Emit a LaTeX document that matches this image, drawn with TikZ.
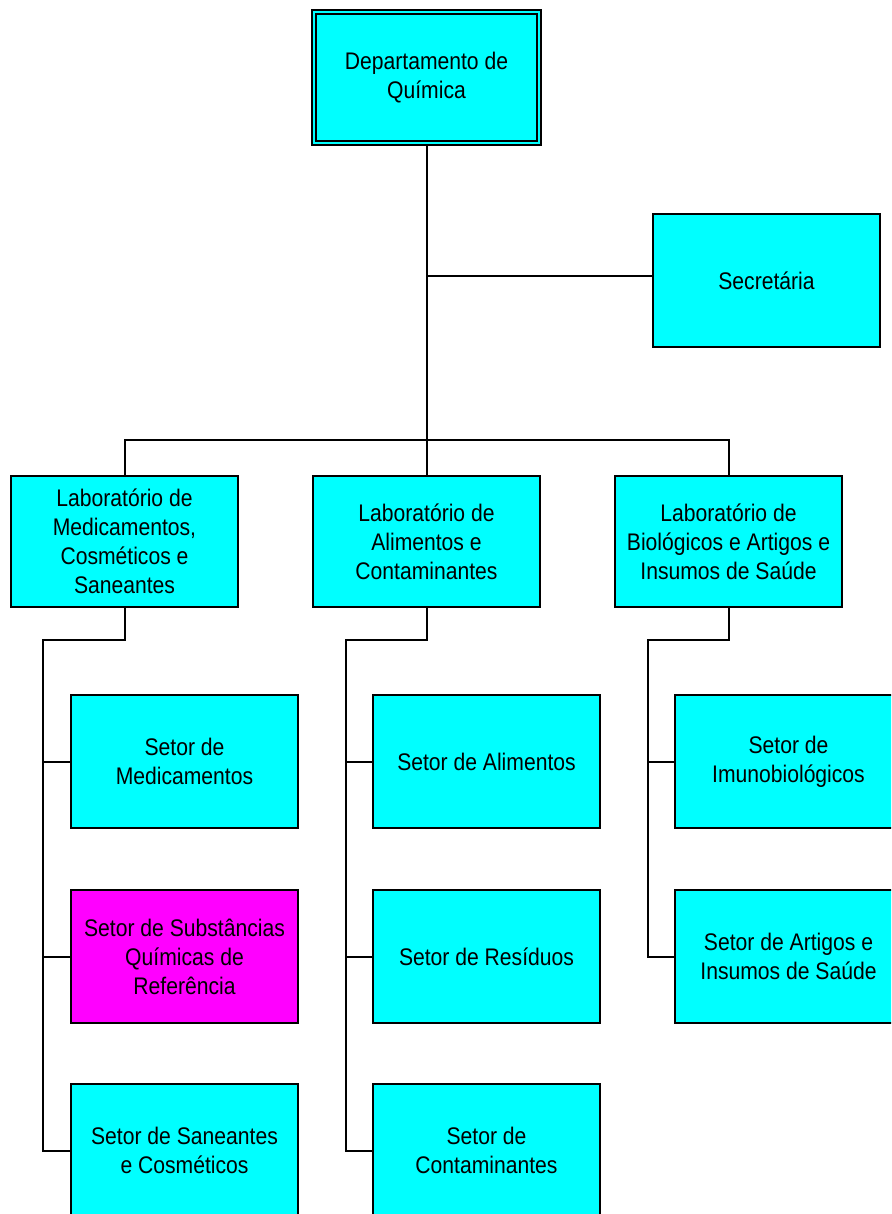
\documentclass[tikz,border=0pt]{standalone}
\usepackage{fontspec}
\setmainfont{Liberation Sans}[FakeStretch=0.88]
\usetikzlibrary{calc}
\definecolor{boxcyan}{HTML}{00FFFF}
\definecolor{boxmag}{HTML}{FF00FF}
\begin{document}
\begin{tikzpicture}[x=1pt,y=-1pt,
  box/.style={draw=black, fill=boxcyan, line width=2pt, minimum width=227pt, minimum height=133pt,
    align=center, inner sep=0pt, font=\fontsize{24}{29}\selectfont},
  conn/.style={draw=black, line width=2pt}]
\clip (0,0) rectangle (891,1214);
\useasboundingbox (0,0) rectangle (891,1214);
\fill[white] (0,0) rectangle (891,1214);
% top
\node[box, minimum width=229pt, minimum height=135pt, line width=2.6pt] (dep) at (426.5,77.5) {Departamento de\\Química};
\draw[line width=2pt] ($(dep.north west)+(5.5,5.5)$) rectangle ($(dep.south east)+(-5.5,-5.5)$);
\node[box] (sec) at (766.5,280.5) {Secretária};
% labs
\node[box, minimum height=131pt] (lab1) at (124.5,541.5) {Laboratório de\\Medicamentos,\\Cosméticos e\\Saneantes};
\node[box, minimum height=131pt] (lab2) at (426.5,541.5) {Laboratório de\\Alimentos e\\Contaminantes};
\node[box, minimum height=131pt] (lab3) at (728.5,541.5) {Laboratório de\\Biológicos e Artigos e\\Insumos de Saúde};
% sectors col 1
\node[box] (s11) at (184.5,761.5) {Setor de\\Medicamentos};
\node[box, fill=boxmag] (s12) at (184.5,956.5) {Setor de Substâncias\\Químicas de\\Referência};
\node[box] (s13) at (184.5,1150.5) {Setor de Saneantes\\e Cosméticos};
% sectors col 2
\node[box] (s21) at (486.5,761.5) {Setor de Alimentos};
\node[box] (s22) at (486.5,956.5) {Setor de Resíduos};
\node[box] (s23) at (486.5,1150.5) {Setor de\\Contaminantes};
% sectors col 3
\node[box] (s31) at (788.5,761.5) {Setor de\\Imunobiológicos};
\node[box] (s32) at (788.5,956.5) {Setor de Artigos e\\Insumos de Saúde};
% coordinates
\coordinate (bus) at (426.5,440);
\coordinate (t1) at (43,640);
\coordinate (t2) at (346,640);
\coordinate (t3) at (648,640);
% connectors
\draw[conn] (dep.south) -- (bus);
\draw[conn] (dep.south |- 0,276) -- ([yshift=4.5pt]sec.west);
\draw[conn] (lab1.north) |- (bus) -| (lab3.north);
\draw[conn] (bus) -- (lab2.north);
\draw[conn] (lab1.south) |- (t1) |- (s13.west);
\draw[conn] (s11.west) -- (s11.west -| t1);
\draw[conn] (s12.west) -- (s12.west -| t1);
\draw[conn] (lab2.south) |- (t2) |- (s23.west);
\draw[conn] (s21.west) -- (s21.west -| t2);
\draw[conn] (s22.west) -- (s22.west -| t2);
\draw[conn] (lab3.south) |- (t3) |- (s32.west);
\draw[conn] (s31.west) -- (s31.west -| t3);
\end{tikzpicture}
\end{document}
